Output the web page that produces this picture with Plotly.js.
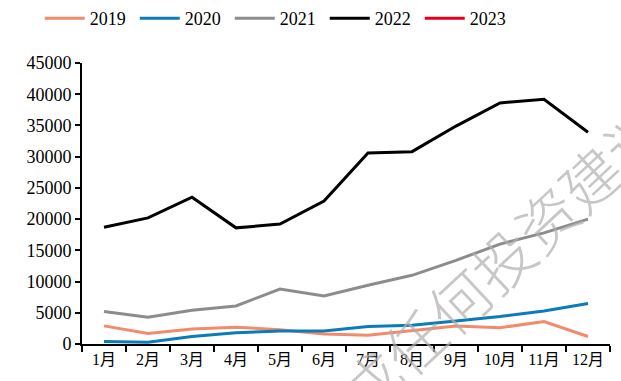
<!DOCTYPE html>
<html><head><meta charset="utf-8">
<script src="https://cdn.plot.ly/plotly-3.0.1.min.js"></script>
<style>body{margin:0;padding:0;background:#fff}</style>
</head><body>
<div id="chart" style="width:621px;height:381px"></div>
<script>
var months = ["1月","2月","3月","4月","5月","6月","7月","8月","9月","10月","11月","12月"];
var s2019 = [2900, 1700, 2400, 2700, 2300, 1600, 1400, 2100, 2900, 2600, 3600, 1200];
var s2020 = [400, 300, 1200, 1800, 2100, 2100, 2800, 3000, 3700, 4400, 5300, 6500];
var s2021 = [5200, 4300, 5400, 6100, 8800, 7700, 9400, 11000, 13400, 16000, 17800, 20000];
var s2022 = [18700, 20200, 23500, 18600, 19200, 22900, 30600, 30800, 34900, 38600, 39200, 33900];
var s2023 = [null, null, null, null, null, null, null, null, null, null, null, null];
var names = ["2019","2020","2021","2022","2023"];
var colors = ["#F28B6B","#0A7DB8","#8C8C8C","#000000","#E3001B"];
var series = [s2019, s2020, s2021, s2022, s2023];
var yTicks = [0,5000,10000,15000,20000,25000,30000,35000,40000,45000];
var watermark = "不构成任何投资建议";

var traces = series.map(function(s, i){
  return {x: months, y: s, name: names[i], type: "scatter", mode: "lines",
    line: {color: colors[i], width: 3}, connectgaps: false};
});
var serif = "Liberation Serif, Noto Sans CJK SC, serif";
var layout = {
  width: 621, height: 381,
  margin: {l: 82, r: 11, t: 63, b: 37, pad: 0},
  paper_bgcolor: "#fff", plot_bgcolor: "#fff",
  font: {family: serif, color: "#000", size: 16},
  showlegend: true,
  legend: {orientation: "h", x: 0.064, xref: "container", y: 1, yref: "container",
    xanchor: "left", yanchor: "top", entrywidth: 40, itemwidth: 40,
    font: {family: serif, size: 18, color: "#000"}, traceorder: "normal"},
  xaxis: {type: "category", showgrid: false, zeroline: false, showline: true,
    linecolor: "#000", linewidth: 2, ticks: "outside", ticklen: 6, tickcolor: "#000",
    tickwidth: 2, tickson: "boundaries", tickfont: {size: 16, family: serif},
    range: [-0.5, 11.5], fixedrange: true},
  yaxis: {range: [0, 45000], tickvals: yTicks, ticktext: yTicks.map(String),
    showgrid: false, zeroline: false, showline: true, linecolor: "#000", linewidth: 2,
    ticks: "outside", ticklen: 5, tickcolor: "#000", tickwidth: 2,
    tickfont: {size: 18, family: serif}, fixedrange: true},
  annotations: [{text: watermark, xref: "paper", yref: "paper", x: 0.71, y: 0.16,
    showarrow: false, textangle: -43, xanchor: "center", yanchor: "middle",
    font: {family: "Noto Sans CJK SC, sans-serif", size: 60, weight: 300, color: "rgba(175,175,175,0.7)"}}]
};
Plotly.newPlot("chart", traces, layout, {displayModeBar: false, staticPlot: true});
</script>
</body></html>
